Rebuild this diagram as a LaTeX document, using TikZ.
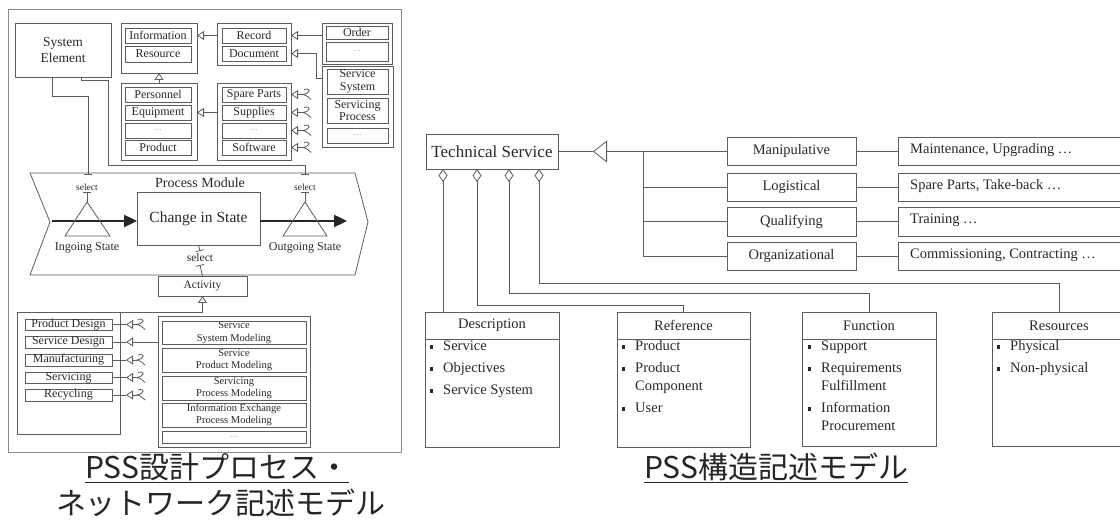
\documentclass[tikz,border=0pt]{standalone}
\usepackage{fontspec}
\setmainfont{Liberation Serif}
\newfontfamily\cjk{Noto Sans CJK JP}
\usetikzlibrary{arrows.meta}

\definecolor{ln}{gray}{0.36}
\definecolor{tx}{gray}{0.16}
\definecolor{fr}{gray}{0.55}

% font size in px-sized points
\newcommand\pxf[2]{\fontsize{#1}{#2}\selectfont}
% square list bullet
\newcommand\bul{\makebox[13pt][l]{\rule[\dimexpr.5ex-1.6pt\relax]{3.2pt}{3.2pt}}}
% box given by its corners: [options]{name}{x1}{y1}{x2}{y2}{text}
\newcommand\bx[7][]{\node[bxs,#1,minimum width={(#5)-(#3)},minimum height={(#6)-(#4)}] (#2) at ({((#3)+(#5))/2},{((#4)+(#6))/2}) {#7};}
% wavy tail of a realization connector
\newcommand\squig[1]{\begin{scope}[shift={(#1)}]\draw[ln] (1,-5) .. controls (8,-7) and (8,-1.5) .. (0,0) .. controls (4,1) and (6,3) .. (8,5);\end{scope}}

\begin{document}
\begin{tikzpicture}[x=1pt,y=-1pt,
  ln/.style={draw=ln,line width=0.8pt},
  bxs/.style={draw=ln,line width=0.8pt,inner sep=0pt,outer sep=0pt,text=tx,align=center,fill=white},
  lbl/.style={text=tx,inner sep=0pt},
  gen/.style={ln,-{Triangle[open,length=7pt,width=9pt,fill=white]}},
  biggen/.style={ln,-{Triangle[open,length=14pt,width=22pt,fill=white]}},
  sel/.style={ln,-{Bar[width=8pt]}},
  selr/.style={ln,{Bar[width=8pt]}-},
  flow/.style={draw=black!85,line width=2.4pt,-{Triangle[length=13pt,width=12pt]}},
  agg/.style={ln,{Diamond[open,length=13pt,width=9pt,fill=white]}-},
  itm/.style={text=tx,inner sep=0pt,anchor=mid west,font=\pxf{14.5}{16}},
  captext/.style={text=black!85,inner sep=0pt,font=\cjk\pxf{30}{34}},
]
\clip (0,0) rectangle (1120,521);
\fill[white] (0,0) rectangle (1120,521);

%% ---------------- process / network model ----------------
\draw[fr,line width=0.8pt] (8,9) rectangle (401,452);

\bx[font=\pxf{13.5}{16}]{se}{15}{23}{111}{77}{System\\Element}

\bx{ig}{121}{23}{197}{73}{}
\bx[font=\pxf{12}{13}]{info}{125}{28}{191}{43}{Information}
\bx[font=\pxf{12}{13}]{res}{125}{46}{191}{62}{Resource}

\bx{rg}{217}{23}{291}{65}{}
\bx[font=\pxf{12}{13}]{rec}{222}{28}{286}{43}{Record}
\bx[font=\pxf{12}{13}]{doc}{222}{46}{286}{61}{Document}

\bx{og}{322}{23}{392}{64}{}
\bx[font=\pxf{12}{13}]{ord}{326}{26}{388}{39}{Order}
\bx[font=\pxf{8}{9},text=gray]{odots}{326}{42}{388}{61}{\ldots}

\bx{svg}{322}{66}{393}{147}{}
\bx[font=\pxf{12}{12.5}]{sys}{327}{69}{388}{94}{Service\\System}
\bx[font=\pxf{12}{12.5}]{proc}{327}{98}{388}{123}{Servicing\\Process}
\bx[font=\pxf{8}{9},text=gray]{sdots}{327}{128}{388}{143}{\ldots}

\bx{pg}{121}{83}{197}{160}{}
\bx[font=\pxf{12}{13}]{per}{125}{87}{191}{102}{Personnel}
\bx[font=\pxf{12}{13}]{equ}{125}{105}{191}{120}{Equipment}
\bx[font=\pxf{8}{9},text=gray]{pdots}{125}{123}{191}{138}{\ldots}
\bx[font=\pxf{12}{13}]{prod}{125}{140}{191}{155}{Product}

\bx{spg}{217}{83}{291}{160}{}
\bx[font=\pxf{12}{13}]{spa}{222}{87}{286}{102}{Spare Parts}
\bx[font=\pxf{12}{13}]{sup}{222}{105}{286}{120}{Supplies}
\bx[font=\pxf{8}{9},text=gray]{spdots}{222}{123}{286}{138}{\ldots}
\bx[font=\pxf{12}{13}]{sw}{222}{140}{286}{155}{Software}

% generalizations in the element hierarchy
\draw[gen] (rg.west |- rec) -- (ig.east |- rec);
\draw[gen] (og.west |- rec) -- (rg.east |- rec);
\draw[gen] ([yshift=-12pt]svg.north west) -- ++(-6,0) |- (rg.east |- doc);
\draw[gen] (pg.north) -- (ig.south);
\draw[gen] (spg.west |- sup) -- (pg.east |- sup);

% realizations of the resource types
\coordinate (rsa) at (303,94.5);
\coordinate (rsb) at (303,112.5);
\coordinate (rsc) at (303,130.5);
\coordinate (rsd) at (303,147.5);
\foreach \c in {rsa,rsb,rsc,rsd}{
  \draw[gen] (\c) -- (spg.east |- \c);
  \squig{\c}
}

% process module
\draw[ln] (30,173) -- (355,173) -- (368,222) -- (355,275) -- (30,275) -- (50,222) -- cycle;
\node[lbl,font=\pxf{14}{16}] (pm) at (200,183) {Process Module};
\bx[font=\pxf{15.5}{18}]{cis}{137}{192}{260}{245}{Change in State}

\coordinate (inA) at (87,202);
\coordinate (outA) at (305,202);
\coordinate (inS) at (52,221);
\coordinate (outE) at (347,221);
\draw[flow] (inS) -- (cis.west |- inS);
\draw[flow] (cis.east |- inS) -- (outE);
\draw[ln] (inA) -- (110,236) -- (65,236) -- cycle;
\draw[ln] (outA) -- (327,236) -- (283,236) -- cycle;
\node[lbl,font=\pxf{12}{14}] (ing) at (87,248) {Ingoing State};
\node[lbl,font=\pxf{12}{14}] (outg) at (305,248) {Outgoing State};

\node[lbl,font=\pxf{9.5}{11}] (sA) at (87,187) {select};
\node[lbl,font=\pxf{9.5}{11}] (sB) at (305,187) {select};
\coordinate (selA) at (88,175);
\coordinate (selB) at (305,175);
\draw[selr] ([yshift=-5pt]sA.center) -- (inA);
\draw[selr] ([yshift=-5pt]sB.center) -- (outA);

% links from the system element
\draw[sel] ([xshift=-11pt]se.south) -- ++(0,19) -| (selA);
\draw[sel] ([xshift=18pt]se.south) -- ++(0,3) -- ++(27,0) -- ++(0,85) -| (selB);

% activity
\node[lbl,font=\pxf{11.5}{13}] (sC) at (200,258) {select};
\bx[font=\pxf{11.5}{13}]{act}{158}{276}{247}{296}{Activity}
\draw[sel] (cis.south) -- ([yshift=7pt]sC.center);
\draw[selr] ([yshift=-7pt]sC.center) -- (act.north);

\bx{lg}{17}{312}{120}{434}{}
\bx[font=\pxf{12}{13}]{pdes}{25}{319}{112}{330}{Product Design}
\bx[font=\pxf{12}{13}]{sdes}{25}{336}{112}{348}{Service Design}
\bx[font=\pxf{12}{13}]{manu}{25}{354}{112}{366}{Manufacturing}
\bx[font=\pxf{12}{13}]{serv}{25}{372}{112}{383}{Servicing}
\bx[font=\pxf{12}{13}]{recy}{25}{389}{112}{401}{Recycling}

\bx{mg}{158}{316}{310}{447}{}
\bx[font=\pxf{10.5}{12.5}]{m1}{162}{321}{306}{344}{Service\\System Modeling}
\bx[font=\pxf{10.5}{12.5}]{m2}{162}{348}{306}{372}{Service\\Product Modeling}
\bx[font=\pxf{10.5}{12.5}]{m3}{162}{376}{306}{400}{Servicing\\Process Modeling}
\bx[font=\pxf{10.5}{12.5}]{m4}{162}{403}{306}{427}{Information Exchange\\Process Modeling}
\bx[font=\pxf{8}{9},text=gray]{m5}{162}{431}{306}{443}{\ldots}

\draw[gen] (lg.north east) -| (act.south);

\coordinate (tsd) at (126,342);
\draw[gen] (mg.west |- tsd) -- (tsd);
\draw[ln] (tsd) -- (sdes.east |- tsd);
\foreach \b/\y in {pdes/324.5,manu/360,serv/377.5,recy/395}{
  \coordinate (t\b) at (126,\y);
  \coordinate (w\b) at (137,\y);
  \draw[gen] (w\b) -- (t\b);
  \draw[ln] (t\b) -- (\b.east |- t\b);
  \squig{w\b}
}

%% ---------------- structure model ----------------
\bx[font=\pxf{17}{19}]{ts}{426}{134}{558}{169}{Technical Service}

\coordinate (gtip) at (593,151.5);
\coordinate (jn) at (643,151.5);
\bx[font=\pxf{14.5}{16}]{man}{727}{137.5}{856}{165.5}{Manipulative}
\bx[font=\pxf{14.5}{16}]{log}{727}{173}{856}{201}{Logistical}
\bx[font=\pxf{14.5}{16}]{qua}{727}{207}{856}{236}{Qualifying}
\bx[font=\pxf{14.5}{16}]{org}{727}{242}{856}{270}{Organizational}

\draw[ln] (ts.east) -- (gtip);
\draw[biggen] (man.west) -- (gtip);
\draw[ln] (log.west) -- (log.west -| jn);
\draw[ln] (qua.west) -- (qua.west -| jn);
\draw[ln] (org.west) -| (jn);

\bx{ex1}{898}{137.5}{1135}{165.5}{}
\bx{ex2}{898}{173}{1135}{201}{}
\bx{ex3}{898}{207}{1135}{236}{}
\bx{ex4}{898}{242}{1135}{270}{}
\node[itm] (ex1t) at (910,151.5) {Maintenance, Upgrading …};
\node[itm] (ex2t) at (910,187) {Spare Parts, Take-back …};
\node[itm] (ex3t) at (910,221.5) {Training …};
\node[itm] (ex4t) at (910,256) {Commissioning, Contracting …};
\draw[ln] (man.east) -- (ex1.west);
\draw[ln] (log.east) -- (ex2.west);
\draw[ln] (qua.east) -- (ex3.west);
\draw[ln] (org.east) -- (ex4.west);

% aspect classes
\bx{desc}{425}{312}{559}{447}{}
\bx{refc}{617}{312}{750}{447}{}
\bx{func}{802}{312}{936}{446}{}
\bx{resc}{992}{312}{1126}{446}{}
\foreach \n/\t in {desc/Description,refc/Reference,func/Function,resc/Resources}{
  \draw[ln] ([yshift=-27pt]\n.north west) -- ([yshift=-27pt]\n.north east);
  \node[lbl,font=\pxf{14.5}{16}] (\n h) at ([yshift=-13.5pt]\n.north) {\t};
}

\node[itm] (d1) at (430,348) {\bul Service};
\node[itm] (d2) at (430,370) {\bul Objectives};
\node[itm] (d3) at (430,392) {\bul Service System};

\node[itm] (r1) at (622,348) {\bul Product};
\node[itm] (r2) at (622,370) {\bul Product};
\node[itm] (r2b) at (635,388) {Component};
\node[itm] (r3) at (622,410) {\bul User};

\node[itm] (f1) at (808,348) {\bul Support};
\node[itm] (f2) at (808,370) {\bul Requirements};
\node[itm] (f2b) at (821,388) {Fulfillment};
\node[itm] (f3) at (808,410) {\bul Information};
\node[itm] (f3b) at (821,428) {Procurement};

\node[itm] (s1) at (997,348) {\bul Physical};
\node[itm] (s2) at (997,370) {\bul Non-physical};

% aggregations of the technical service
\draw[agg] ([xshift=17pt]ts.south west) -- ([xshift=17pt]ts.south west |- desc.north);
\draw[agg] ([xshift=51pt]ts.south west) |- ([yshift=7pt]refc.north) -- (refc.north);
\draw[agg] ([xshift=83pt]ts.south west) |- ([yshift=19pt]func.north) -- (func.north);
\draw[agg] ([xshift=113pt]ts.south west) |- ([yshift=29pt]resc.north) -- (resc.north);

%% ---------------- captions ----------------
\node[captext] (c1) at (217,468) {\underline{PSS設計プロセス・}};
\node[captext] (c2) at (221,503) {ネットワーク記述モデル};
\node[captext] (c3) at (776,468) {\underline{PSS構造記述モデル}};
\end{tikzpicture}
\end{document}
